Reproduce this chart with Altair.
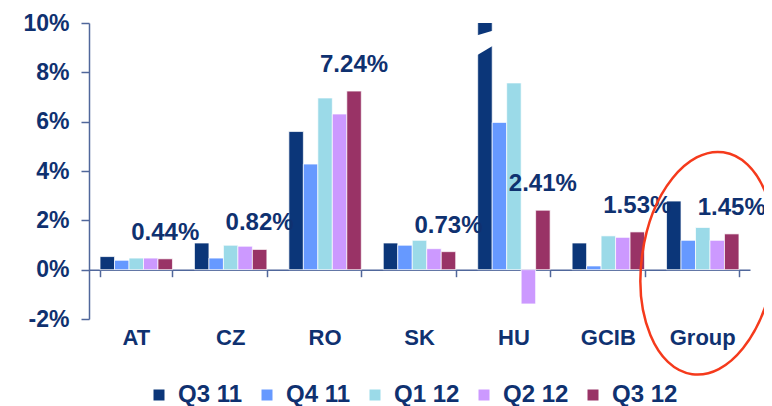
import altair as alt
import pandas as pd

categories = ["AT", "CZ", "RO", "SK", "HU", "GCIB", "Group"]
series = ["Q3 11", "Q4 11", "Q1 12", "Q2 12", "Q3 12"]
q3_11 = [0.53, 1.08, 5.60, 1.08, 12.5, 1.08, 2.78]
q4_11 = [0.38, 0.47, 4.28, 0.99, 5.97, 0.15, 1.19]
q1_12 = [0.47, 0.99, 6.96, 1.19, 7.57, 1.37, 1.71]
q2_12 = [0.47, 0.95, 6.31, 0.85, -1.39, 1.31, 1.19]
q3_12 = [0.44, 0.82, 7.24, 0.73, 2.41, 1.53, 1.45]
colors = ["#0B3679", "#6699FF", "#9BDAE8", "#CC99FF", "#993366"]
y_ticks = [-2, 0, 2, 4, 6, 8, 10]

NAVY = "#0F3170"
AXIS = "#50679B"
FONT = "Liberation Sans"

rows = []
for s, vals in zip(series, [q3_11, q4_11, q1_12, q2_12, q3_12]):
    for c, v in zip(categories, vals):
        rows.append({"Region": c, "Series": s, "Value": v})
df = pd.DataFrame(rows)

# annotation anchors: highlight ellipse around "Group", axis-break mark on the clipped HU bar
ellipse_df = pd.DataFrame({"Region": ["Group"], "Value": [0.26]})
break_df = pd.DataFrame({"Region": ["HU"], "Series": ["Q3 11"], "Value": [9.24]})

x_scale = alt.Scale(domain=categories, paddingInner=0.233, paddingOuter=0.117)
y_scale = alt.Scale(domain=[-2, 10], nice=False, zero=False)
xoff = alt.XOffset("Series:N", sort=series, scale=alt.Scale(domain=series, paddingInner=0, paddingOuter=0))

y_enc = alt.Y(
    "Value:Q",
    scale=y_scale,
    title=None,
    axis=alt.Axis(
        values=y_ticks, labelExpr="datum.value + '%'", grid=False,
        domainColor=AXIS, tickColor=AXIS, tickSize=8, domainWidth=1.5, tickWidth=1.5,
        labelFont=FONT, labelFontSize=23, labelFontWeight="bold", labelColor=NAVY,
        labelPadding=12,
    ),
)

zero_axis = alt.Chart(df).mark_bar(opacity=0).encode(
    x=alt.X("Region:N", scale=x_scale, sort=categories, title=None,
            axis=alt.Axis(orient="bottom", offset=-49.3, labels=False, tickBand="extent",
                          domainColor=AXIS, tickColor=AXIS, tickSize=7, domainWidth=1.5,
                          tickWidth=1.5)),
    y=y_enc,
)

bars = alt.Chart(df).mark_bar(stroke="white", strokeWidth=0.7, clip=True).encode(
    x=alt.X("Region:N", scale=x_scale, sort=categories, title=None,
            axis=alt.Axis(orient="bottom", domain=False, ticks=False, labelAngle=0,
                          labelFont=FONT, labelFontSize=22, labelFontWeight="bold",
                          labelColor=NAVY, labelPadding=8)),
    xOffset=xoff,
    y=alt.Y("Value:Q", scale=y_scale),
    color=alt.Color("Series:N", sort=series,
                    scale=alt.Scale(domain=series, range=colors),
                    legend=alt.Legend(title=None, orient="none", direction="horizontal",
                                      legendX=58, legendY=360, padding=0,
                                      symbolType="square", symbolSize=121,
                                      symbolStrokeWidth=0, labelOffset=7, columnPadding=12,
                                      labelFont=FONT, labelFontSize=24, labelFontWeight="bold",
                                      labelColor=NAVY)),
)

break_path = "M-0.6,-0.44L0.6,-0.8L0.6,0.27L-0.6,0.99Z"
axis_break = alt.Chart(break_df).mark_point(
    shape=break_path, size=784, filled=True, fill="white", strokeWidth=0, opacity=1,
).encode(
    x=alt.X("Region:N", scale=x_scale, sort=categories, axis=None),
    xOffset=xoff,
    y=alt.Y("Value:Q", scale=y_scale),
)

labels = alt.Chart(df).transform_filter(
    alt.datum.Series == "Q3 12"
).transform_calculate(
    label="format(datum.Value, '.2f') + '%'"
).mark_text(dy=-26, font=FONT, fontSize=24, fontWeight="bold", color=NAVY).encode(
    x=alt.X("Region:N", scale=x_scale, sort=categories, axis=None),
    xOffset=xoff,
    y=alt.Y("Value:Q", scale=y_scale),
    text="label:N",
)

ellipse_path = "M0,-1A0.59,1,0,1,1,0,1A0.59,1,0,1,1,0,-1Z"
ellipse = alt.Chart(ellipse_df).mark_point(
    shape=ellipse_path, size=50176, filled=False, stroke="#F53A1C",
    strokeWidth=2.5, opacity=1, xOffset=5, angle=8,
).encode(
    x=alt.X("Region:N", scale=x_scale, sort=categories, axis=None),
    y=alt.Y("Value:Q", scale=y_scale),
)

chart = alt.layer(zero_axis, bars, axis_break, labels, ellipse).resolve_axis(x="independent").properties(
    width=661, height=296, autosize="none",
    padding={"left": 81, "top": 15, "right": 14, "bottom": 87},
).configure_view(stroke=None)

chart.save("out.html", embed_options={"renderer": "svg", "actions": False})
